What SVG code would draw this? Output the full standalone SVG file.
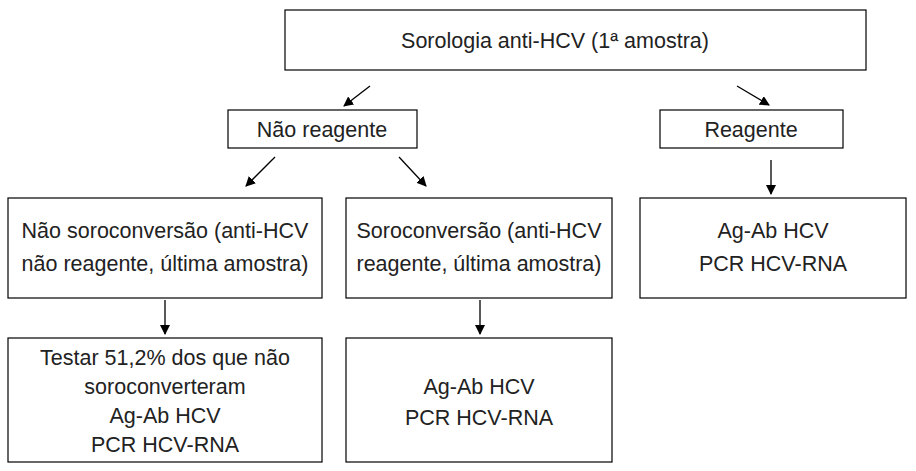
<svg xmlns="http://www.w3.org/2000/svg" width="916" height="471" viewBox="0 0 916 471">
<defs><marker id="a" markerWidth="10" markerHeight="10" refX="9" refY="5" orient="auto" markerUnits="userSpaceOnUse"><path d="M0,0 L10,5 L0,10 z" fill="#000"/></marker></defs>
<style>rect{fill:#fff;stroke:#000;stroke-width:1.2}text{font-family:"Liberation Sans",Arial,sans-serif;font-size:21.5px;fill:#222;text-anchor:middle}line{stroke:#000;stroke-width:1.3;marker-end:url(#a)}</style>
<rect width="916" height="471" style="stroke:none"/>
<g id="top"><rect x="285" y="10" width="581" height="60"/><text x="555" y="48">Sorologia anti-HCV (1ª amostra)</text></g>
<g id="nr"><rect x="228" y="110" width="189" height="38"/><text x="322" y="137">Não reagente</text></g>
<g id="r"><rect x="660" y="110" width="183" height="38"/><text x="751" y="137">Reagente</text></g>
<g id="ns"><rect x="8" y="198" width="314" height="100"/><text x="165" y="238">Não soroconversão (anti-HCV</text><text x="165" y="271">não reagente, última amostra)</text></g>
<g id="s"><rect x="346" y="198" width="266" height="100"/><text x="479" y="238">Soroconversão (anti-HCV</text><text x="479" y="271">reagente, última amostra)</text></g>
<g id="rr"><rect x="640" y="198" width="266" height="100"/><text x="773" y="238">Ag-Ab HCV</text><text x="773" y="271">PCR HCV-RNA</text></g>
<g id="t"><rect x="8" y="338" width="314" height="124"/><text x="165" y="365">Testar 51,2% dos que não</text><text x="165" y="394">soroconverteram</text><text x="165" y="423">Ag-Ab HCV</text><text x="165" y="452">PCR HCV-RNA</text></g>
<g id="sr"><rect x="346" y="338" width="266" height="124"/><text x="479" y="394">Ag-Ab HCV</text><text x="479" y="425">PCR HCV-RNA</text></g>
<g id="conn"><line x1="370" y1="86" x2="344" y2="106"/><line x1="737" y1="86" x2="769" y2="105"/><line x1="275" y1="157" x2="246" y2="186"/><line x1="399" y1="157" x2="426" y2="186"/><line x1="771" y1="160" x2="771" y2="194"/><line x1="165" y1="300" x2="165" y2="334"/><line x1="480" y1="300" x2="480" y2="334"/></g>
</svg>
